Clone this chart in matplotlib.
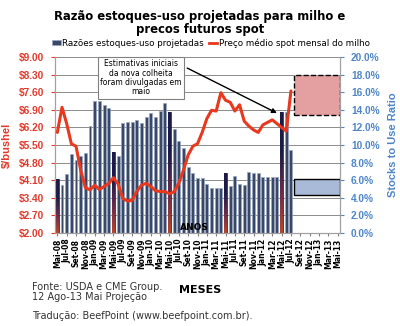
"""Projected corn stocks-to-use ratio vs. monthly spot corn price (USDA / CME)."""

import matplotlib

matplotlib.use("Agg")
import matplotlib.pyplot as plt
import numpy as np
from matplotlib.colors import LinearSegmentedColormap
from matplotlib.lines import Line2D
from matplotlib.patches import Patch, Rectangle
from matplotlib.ticker import FuncFormatter

# Months from Mai-08 (index 0) to Mai-13 (index 60); labels every second month
TICK_LABELS = [
    "Mai-08", "Jul-08", "Set-08", "Nov-08", "Jan-09", "Mar-09", "Mai-09", "Jul-09",
    "Set-09", "Nov-09", "Jan-10", "Mar-10", "Mai-10", "Jul-10", "Set-10", "Nov-10",
    "Jan-11", "Mar-11", "Mai-11", "Jul-11", "Set-11", "Nov-11", "Jan-12", "Mar-12",
    "Mai-12", "Jul-12", "Set-12", "Nov-12", "Jan-13", "Mar-13", "Mai-13",
]
N_MONTHS = 61

# Projected stocks-to-use ratio (%), Mai-08 .. Jul-12
STOCKS_TO_USE = [
    6.1, 5.45, 6.7, 9.0, 8.3, 8.7, 9.05, 12.2, 15.0, 15.0, 14.5, 14.2,
    9.2, 8.8, 12.5, 12.65, 12.65, 12.8, 12.55, 13.2, 13.6, 13.2, 13.9, 14.8,
    13.7, 11.8, 10.4, 9.7, 7.5, 6.8, 6.3, 6.3, 5.6, 5.1, 5.1, 5.1,
    6.8, 5.3, 6.5, 5.6, 5.4, 6.9, 6.85, 6.85, 6.4, 6.4, 6.4, 6.4,
    13.7, 13.8, 9.4,
]
# Monthly average spot corn price ($/bushel), Mai-08 .. Jul-12
SPOT_PRICE = [
    6.00, 7.00, 6.35, 5.55, 5.45, 4.50, 3.80, 3.72, 3.90, 3.73, 3.85, 3.97,
    4.20, 3.95, 3.38, 3.27, 3.30, 3.65, 3.90, 3.98, 3.85, 3.68, 3.65, 3.65,
    3.56, 3.64, 3.98, 4.50, 5.10, 5.45, 5.55, 6.00, 6.55, 6.88, 6.85, 7.58,
    7.28, 7.20, 6.85, 7.10, 6.45, 6.25, 6.10, 6.00, 6.30, 6.40, 6.50, 6.35,
    6.20, 6.05, 7.65,
]
# New-crop estimates are released in May
MAY_INDEX = [0, 12, 24, 36, 48]

# Projection ranges for Ago-12 .. Mai-13
PROJECTION_MONTHS = (50.6, 60.4)
PRICE_PROJECTION = (6.70, 8.30)
STOCKS_PROJECTION = (4.3, 6.1)

RED = "#e23a2c"
BLUE = "#4f86c6"
BAR = "#3a4868"
TEXT_GREY = "#333333"


def fig_xy(px, py):
    """Pixel position in the 400x326 canvas to figure fraction."""
    return px / 400, 1 - py / 326


fig = plt.figure(figsize=(4, 3.26), dpi=100)
ax = fig.add_axes([55 / 400, 93 / 326, 285 / 400, 176 / 326])
ax2 = ax.twinx()
ax.set_zorder(ax2.get_zorder() + 1)
ax.patch.set_visible(False)

# Stocks-to-use bars (right axis)
x = np.arange(len(STOCKS_TO_USE))
width = 0.62
bars = ax2.bar(x, STOCKS_TO_USE, width=width, color=BAR, edgecolor="#9aa8c4",
               linewidth=0.5, zorder=2)
may_cmap = LinearSegmentedColormap.from_list(
    "may", ["#b8452c", "#6a2b4a", "#1c1b48", "#1c1b48"])
gradient = np.linspace(0, 1, 64).reshape(-1, 1)
for i in MAY_INDEX:
    b = bars[i]
    b.set_edgecolor("#1c1b48")
    img = ax2.imshow(gradient, cmap=may_cmap, origin="lower", aspect="auto",
                     extent=[i - width / 2, i + width / 2, 0, STOCKS_TO_USE[i]],
                     zorder=3)
    img.set_clip_path(b)

ax2.add_patch(Rectangle((PROJECTION_MONTHS[0], STOCKS_PROJECTION[0]),
                        PROJECTION_MONTHS[1] - PROJECTION_MONTHS[0],
                        STOCKS_PROJECTION[1] - STOCKS_PROJECTION[0],
                        facecolor="#a9b9d8", edgecolor="black", linewidth=1.0, zorder=4))

ax2.set_ylim(0, 20)
ax2.set_yticks(np.arange(0, 20.1, 2))
ax2.yaxis.set_major_formatter(FuncFormatter(lambda v, _: f"{v:.1f}%"))
ax2.grid(axis="y", color="#8c8c8c", linewidth=0.7)
ax2.set_axisbelow(True)
ax2.tick_params(axis="y", colors=BLUE, length=3, pad=5, labelsize=7.3)
for lab in ax2.get_yticklabels():
    lab.set_fontweight("bold")
    lab.set_family("Liberation Sans")
ax2.set_ylabel("Stocks to Use Ratio", color=BLUE, fontsize=8, fontweight="bold",
               family="Liberation Sans")
ax2.yaxis.set_label_coords(1.17, 0.5)

# Spot price line (left axis)
ax.plot(x, SPOT_PRICE, color="#e8381e", linewidth=2.2, solid_joinstyle="round",
        solid_capstyle="round", zorder=5)
ax.add_patch(Rectangle((PROJECTION_MONTHS[0], PRICE_PROJECTION[0]),
                       PROJECTION_MONTHS[1] - PROJECTION_MONTHS[0],
                       PRICE_PROJECTION[1] - PRICE_PROJECTION[0],
                       facecolor="#e4a0a0", edgecolor="black", linestyle="--",
                       linewidth=1.0, zorder=4))

ax.set_ylim(2, 9)
ax.set_yticks(np.arange(2, 9.01, 0.7))
ax.yaxis.set_major_formatter(FuncFormatter(lambda v, _: f"\\${v:.2f}"))
ax.tick_params(axis="y", colors=RED, length=3, pad=5, labelsize=7.3)
for lab in ax.get_yticklabels():
    lab.set_fontweight("bold")
    lab.set_family("Liberation Sans")
ax.set_ylabel("\\$/bushel", color=RED, fontsize=8, fontweight="bold",
              family="Liberation Sans")
ax.yaxis.set_label_coords(-0.151, 0.5)

ax.set_xlim(-0.5, N_MONTHS - 0.5)
ax.set_xticks(np.arange(0, N_MONTHS, 2))
ax.set_xticklabels(TICK_LABELS, rotation=90, fontsize=5.5, fontweight="bold")
ax.tick_params(axis="x", length=2, pad=2, color="#808080")

for a in (ax, ax2):
    for side in ("left", "right", "bottom"):
        a.spines[side].set_color("#a0a0a0")
    a.spines["top"].set_visible(False)

# Annotation about May estimates
ax.text(17.9, 8.17, "Estimativas iniciais\nda nova colheita\nforam divulgadas em\nmaio",
        ha="center", va="center", fontsize=5.5, linespacing=1.05, zorder=6,
        bbox=dict(boxstyle="square,pad=0.3", facecolor="white", edgecolor="#808080",
                  linewidth=0.8))
ax.annotate("", xy=(47.0, 6.77), xytext=(27.8, 8.56), zorder=6,
            arrowprops=dict(arrowstyle="-|>", color="black", linewidth=1.0,
                            mutation_scale=7, shrinkA=0, shrinkB=0))
ax.text(29.3, 2.22, "ANOS", ha="center", va="center", fontsize=6.5,
        fontweight="bold", zorder=6)

# Title and legend
fig.text(*fig_xy(200, 23), "Razão estoques-uso projetadas para milho e\nprecos futuros spot",
         ha="center", va="center", fontsize=8.4, fontweight="bold", linespacing=1.0)
handles = [
    Patch(facecolor=BAR, edgecolor="#9aa8c4", linewidth=0.5),
    Line2D([0], [0], color="#e8381e", linewidth=2.0),
]
fig.legend(handles, ["Razões estoques-uso projetadas", "Preço médio spot mensal do milho"],
           loc="center", bbox_to_anchor=fig_xy(211, 43), ncol=2, frameon=False,
           fontsize=6.3, handlelength=1.0, handleheight=0.6, handletextpad=0.2,
           columnspacing=0.5, borderaxespad=0)

# Source notes
fig.text(*fig_xy(32, 292), "Fonte: USDA e CME Group.\n12 Ago-13 Mai Projeção",
         ha="left", va="center", fontsize=7, color=TEXT_GREY, linespacing=0.95)
fig.text(*fig_xy(200, 290), "MESES", ha="center", va="center", fontsize=8,
         fontweight="bold")
fig.text(*fig_xy(32, 316), "Tradução: BeefPoint (www.beefpoint.com.br).",
         ha="left", va="center", fontsize=7, color=TEXT_GREY)

fig.savefig("out.png", dpi=100)
plt.close(fig)
